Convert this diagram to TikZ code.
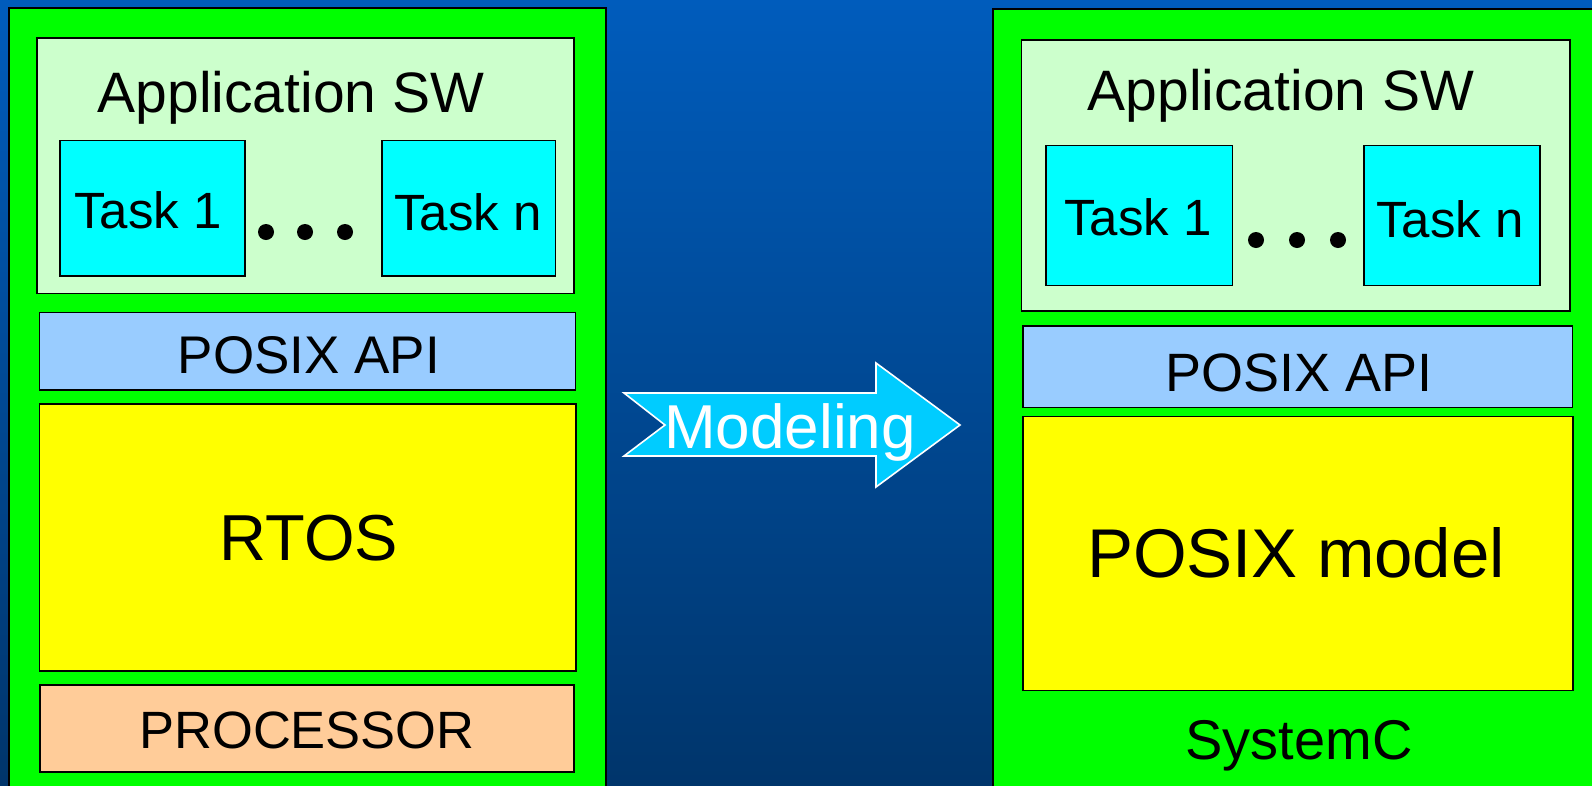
\documentclass[tikz,border=0pt]{standalone}
\usepackage{fontspec}
\setmainfont{Liberation Sans}
\newcommand{\fsz}[1]{\fontsize{#1}{#1}\selectfont}
\definecolor{bgtop}{HTML}{005CBC}
\definecolor{bgbot}{HTML}{00356B}
\definecolor{layergreen}{HTML}{00FF00}
\definecolor{appgreen}{HTML}{CCFFCC}
\definecolor{taskcyan}{HTML}{00FFFF}
\definecolor{apiblue}{HTML}{99CCFF}
\definecolor{osyellow}{HTML}{FFFF00}
\definecolor{cpuorange}{HTML}{FFCC99}
\definecolor{arrowcyan}{HTML}{00CCFF}
\tikzset{
  layer/.style={draw=black, line width=1.4pt, inner sep=0pt, outer sep=0pt},
  panel/.style={layer, fill=layergreen, line width=1.1pt},
  appbox/.style={layer, fill=appgreen},
  taskbox/.style={layer, fill=taskcyan},
  apibox/.style={layer, fill=apiblue},
  osbox/.style={layer, fill=osyellow},
  cpubox/.style={layer, fill=cpuorange},
  lbl/.style={anchor=base, inner sep=0pt, outer sep=0pt, text=black},
  dot/.style={circle, fill=black, inner sep=0pt, minimum size=16pt}
}
\begin{document}
\begin{tikzpicture}[x=1pt, y=-1pt]
% canvas with its vertical blue shading
\useasboundingbox (0,0) rectangle (1592,785);
\shade[top color=bgtop, bottom color=bgbot] (0,0) rectangle (1592,785);

% ---------- left stack: real target ----------
\node[panel, minimum width=597pt, minimum height=792pt] (greenL) at (307.5,404) {};
\node[appbox, minimum width=537pt, minimum height=255.5pt] (appL) at (305.5,165.75) {};
\node[taskbox, minimum width=185pt, minimum height=135.5pt] (t1L) at (152.5,208.25) {};
\node[taskbox, minimum width=173.3pt, minimum height=135.5pt] (tnL) at (468.65,208.25) {};
\node[apibox, minimum width=536.4pt, minimum height=77.7pt] (posixL) at (307.5,351.15) {};
\node[osbox, minimum width=536.7pt, minimum height=267pt] (rtosL) at (307.65,537.5) {};
\node[cpubox, minimum width=534pt, minimum height=87pt] (procL) at (307,728.5) {};

\node[lbl, font=\fsz{57}] (appLtxt) at (291,112) {Application SW};
\node[lbl, font=\fsz{51}] (t1Ltxt) at (148,228) {Task 1};
\node[lbl, font=\fsz{51}] (tnLtxt) at (468,230) {Task n};
\node[dot] (d1L) at (266,232) {};
\node[dot] (d2L) at (305,232) {};
\node[dot] (d3L) at (345,232) {};
\node[lbl, font=\fsz{53}] (posixLtxt) at (309,373.6) {POSIX API};
\node[lbl, font=\fsz{65}] (rtosLtxt) at (309,560) {RTOS};
\node[lbl, font=\fsz{52.5}] (procLtxt) at (307,748) {PROCESSOR};

% ---------- right stack: SystemC model ----------
\node[panel, minimum width=627pt, minimum height=792pt] (greenR) at (1306.5,405) {};
\node[appbox, minimum width=548.3pt, minimum height=271pt] (appR) at (1295.85,175.5) {};
\node[taskbox, minimum width=186.6pt, minimum height=140pt] (t1R) at (1139.3,215.7) {};
\node[taskbox, minimum width=176pt, minimum height=140pt] (tnR) at (1452,215.7) {};
\node[apibox, minimum width=549.7pt, minimum height=81.3pt] (posixR) at (1297.85,366.65) {};
\node[osbox, minimum width=550pt, minimum height=274pt] (modelR) at (1298,553.7) {};

\node[lbl, font=\fsz{57}] (appRtxt) at (1281,110) {Application SW};
\node[lbl, font=\fsz{51}] (t1Rtxt) at (1138,235) {Task 1};
\node[lbl, font=\fsz{51}] (tnRtxt) at (1450,237.5) {Task n};
\node[dot] (d1R) at (1256,240) {};
\node[dot] (d2R) at (1297,240) {};
\node[dot] (d3R) at (1338,240) {};
\node[lbl, font=\fsz{54}] (posixRtxt) at (1299,391) {POSIX API};
\node[lbl, font=\fsz{69}] (modelRtxt) at (1296,577) {POSIX model};
\node[lbl, font=\fsz{56}] (scTxt) at (1299,759) {SystemC};

% ---------- block arrow between the stacks ----------
\draw[white, line width=1.6pt, fill=arrowcyan, line join=miter]
  (624,393) -- (876,393) -- (876,363) -- (960,425) -- (876,487)
  -- (876,456) -- (624,456) -- (665,425) -- cycle;
\node[lbl, text=white, font=\fsz{62}] (modeling) at (790,448) {Modeling};
\end{tikzpicture}
\end{document}
